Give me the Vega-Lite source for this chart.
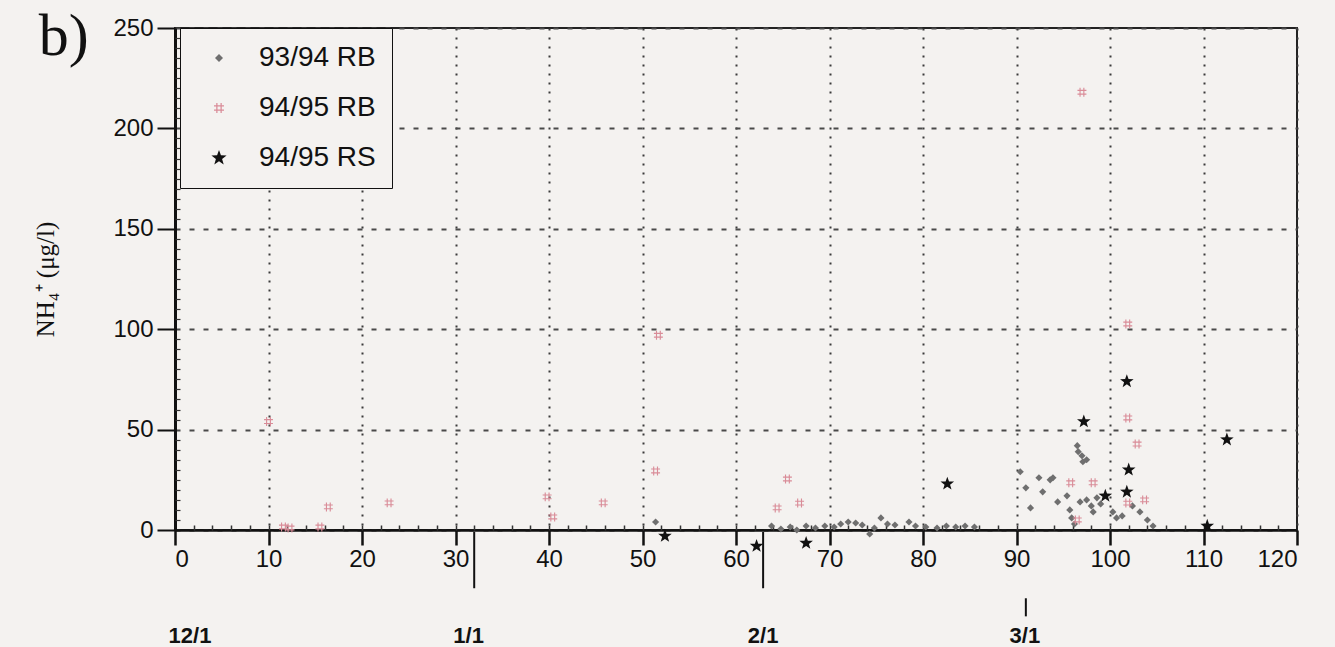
{
  "$schema": "https://vega.github.io/schema/vega-lite/v6.json",
  "width": 1122,
  "height": 502,
  "autosize": {"type": "none"},
  "padding": {"left": 175, "top": 28, "right": 38, "bottom": 117},
  "background": "#f4f2f0",
  "config": {
    "view": {"stroke": "#222", "strokeWidth": 2},
    "axis": {"labelFont": "Liberation Sans", "labelFontSize": 24, "labelColor": "#111", "domainColor": "#111", "tickColor": "#111", "titleFont": "Liberation Serif"}
  },
  "datasets": {
    "pts": [
      {"x": 51.4, "y": 4, "series": "93/94 RB"},
      {"x": 63.8, "y": 2, "series": "93/94 RB"},
      {"x": 64.8, "y": 0.5, "series": "93/94 RB"},
      {"x": 65.8, "y": 1.5, "series": "93/94 RB"},
      {"x": 66.5, "y": 0, "series": "93/94 RB"},
      {"x": 67.5, "y": 2, "series": "93/94 RB"},
      {"x": 68.5, "y": 1, "series": "93/94 RB"},
      {"x": 69.5, "y": 2, "series": "93/94 RB"},
      {"x": 70.5, "y": 1.5, "series": "93/94 RB"},
      {"x": 71.2, "y": 3, "series": "93/94 RB"},
      {"x": 72, "y": 4, "series": "93/94 RB"},
      {"x": 72.8, "y": 3.5, "series": "93/94 RB"},
      {"x": 73.5, "y": 2.5, "series": "93/94 RB"},
      {"x": 74.3, "y": -2, "series": "93/94 RB"},
      {"x": 74.8, "y": 1, "series": "93/94 RB"},
      {"x": 75.5, "y": 6, "series": "93/94 RB"},
      {"x": 76.2, "y": 3, "series": "93/94 RB"},
      {"x": 77, "y": 2.5, "series": "93/94 RB"},
      {"x": 78.5, "y": 4, "series": "93/94 RB"},
      {"x": 79.2, "y": 2, "series": "93/94 RB"},
      {"x": 80.3, "y": 1.5, "series": "93/94 RB"},
      {"x": 81.5, "y": 1, "series": "93/94 RB"},
      {"x": 82.5, "y": 2, "series": "93/94 RB"},
      {"x": 83.5, "y": 1.5, "series": "93/94 RB"},
      {"x": 84.5, "y": 2, "series": "93/94 RB"},
      {"x": 85.5, "y": 1.5, "series": "93/94 RB"},
      {"x": 90.4, "y": 29, "series": "93/94 RB"},
      {"x": 91, "y": 21, "series": "93/94 RB"},
      {"x": 91.5, "y": 11, "series": "93/94 RB"},
      {"x": 92.4, "y": 26, "series": "93/94 RB"},
      {"x": 92.8, "y": 19, "series": "93/94 RB"},
      {"x": 93.6, "y": 25, "series": "93/94 RB"},
      {"x": 93.9, "y": 26, "series": "93/94 RB"},
      {"x": 94.4, "y": 14, "series": "93/94 RB"},
      {"x": 95.4, "y": 17, "series": "93/94 RB"},
      {"x": 95.7, "y": 10, "series": "93/94 RB"},
      {"x": 95.9, "y": 6, "series": "93/94 RB"},
      {"x": 96.2, "y": 3, "series": "93/94 RB"},
      {"x": 96.5, "y": 42, "series": "93/94 RB"},
      {"x": 96.6, "y": 39, "series": "93/94 RB"},
      {"x": 97, "y": 37, "series": "93/94 RB"},
      {"x": 97.1, "y": 34, "series": "93/94 RB"},
      {"x": 97.5, "y": 35, "series": "93/94 RB"},
      {"x": 96.8, "y": 14, "series": "93/94 RB"},
      {"x": 97.5, "y": 15, "series": "93/94 RB"},
      {"x": 98, "y": 12, "series": "93/94 RB"},
      {"x": 98.6, "y": 16, "series": "93/94 RB"},
      {"x": 98.2, "y": 9, "series": "93/94 RB"},
      {"x": 99, "y": 13, "series": "93/94 RB"},
      {"x": 100.3, "y": 9, "series": "93/94 RB"},
      {"x": 100.7, "y": 6, "series": "93/94 RB"},
      {"x": 101.3, "y": 7, "series": "93/94 RB"},
      {"x": 102.4, "y": 12, "series": "93/94 RB"},
      {"x": 103.2, "y": 9, "series": "93/94 RB"},
      {"x": 104, "y": 5, "series": "93/94 RB"},
      {"x": 104.6, "y": 2, "series": "93/94 RB"},
      {"x": 10, "y": 54, "series": "94/95 RB"},
      {"x": 11.6, "y": 1.5, "series": "94/95 RB"},
      {"x": 12.3, "y": 1, "series": "94/95 RB"},
      {"x": 15.5, "y": 1.5, "series": "94/95 RB"},
      {"x": 16.4, "y": 11.5, "series": "94/95 RB"},
      {"x": 22.9, "y": 13.5, "series": "94/95 RB"},
      {"x": 39.8, "y": 16.5, "series": "94/95 RB"},
      {"x": 40.4, "y": 6.5, "series": "94/95 RB"},
      {"x": 45.8, "y": 13.5, "series": "94/95 RB"},
      {"x": 51.4, "y": 29.4, "series": "94/95 RB"},
      {"x": 51.7, "y": 97, "series": "94/95 RB"},
      {"x": 64.4, "y": 11, "series": "94/95 RB"},
      {"x": 65.5, "y": 25.4, "series": "94/95 RB"},
      {"x": 66.8, "y": 13.4, "series": "94/95 RB"},
      {"x": 95.8, "y": 23.5, "series": "94/95 RB"},
      {"x": 98.2, "y": 23.5, "series": "94/95 RB"},
      {"x": 96.5, "y": 5, "series": "94/95 RB"},
      {"x": 97, "y": 218, "series": "94/95 RB"},
      {"x": 101.9, "y": 102.6, "series": "94/95 RB"},
      {"x": 101.9, "y": 55.8, "series": "94/95 RB"},
      {"x": 102.9, "y": 42.8, "series": "94/95 RB"},
      {"x": 101.9, "y": 13.4, "series": "94/95 RB"},
      {"x": 103.7, "y": 15, "series": "94/95 RB"},
      {"x": 52.4, "y": -3, "series": "94/95 RS"},
      {"x": 62.2, "y": -8, "series": "94/95 RS"},
      {"x": 67.5, "y": -6.5, "series": "94/95 RS"},
      {"x": 82.6, "y": 23, "series": "94/95 RS"},
      {"x": 97.2, "y": 54, "series": "94/95 RS"},
      {"x": 99.5, "y": 17, "series": "94/95 RS"},
      {"x": 101.8, "y": 74, "series": "94/95 RS"},
      {"x": 102, "y": 30, "series": "94/95 RS"},
      {"x": 101.8, "y": 19, "series": "94/95 RS"},
      {"x": 110.4, "y": 2, "series": "94/95 RS"},
      {"x": 112.5, "y": 45, "series": "94/95 RS"}
    ],
    "dates": [
      {"x": 1.6, "y": -53, "label": "12/1"},
      {"x": 31.4, "y": -53, "label": "1/1"},
      {"x": 62.9, "y": -53, "label": "2/1"},
      {"x": 90.9, "y": -53, "label": "3/1"}
    ],
    "panel": [
      {"x": -11.9, "y": 236.5, "label": "b)"}
    ],
    "marks": [
      {"x": 32, "y": -1, "y2": -29},
      {"x": 62.9, "y": -1, "y2": -29},
      {"x": 91, "y": -34, "y2": -43}
    ]
  },
  "layer": [
    {
      "data": {"name": "pts"},
      "mark": {"type": "point", "filled": true, "size": 80, "opacity": 1},
      "encoding": {
        "x": {"field": "x", "type": "quantitative", "scale": {"domain": [0, 120], "nice": false},
          "axis": {"orient": "bottom", "values": [0, 10, 20, 30, 40, 50, 60, 70, 80, 90, 100, 110, 120], "title": null, "tickSize": 15, "tickWidth": 2.5, "domainWidth": 2.5, "labelPadding": 2, "grid": true, "gridDash": [2, 7], "gridColor": "#3a3a3a", "gridWidth": 2}},
        "y": {"field": "y", "type": "quantitative", "scale": {"domain": [0, 250], "nice": false},
          "axis": {"orient": "left", "values": [0, 50, 100, 150, 200, 250], "title": "NH₄⁺ (μg/l)", "titleFontSize": 25, "titleFontWeight": "normal", "titleColor": "#111", "titleX": -130, "titleY": 251, "titleAngle": -90, "titleAlign": "center", "titleBaseline": "middle", "tickSize": 18, "tickWidth": 2, "domainWidth": 3, "labelPadding": 4, "grid": true, "gridDash": [5, 9], "gridColor": "#4a4a4a", "gridWidth": 2}},
        "color": {"field": "series", "type": "nominal", "scale": {"domain": ["93/94 RB", "94/95 RB", "94/95 RS"], "range": ["#6f6f6f", "#d98c98", "#111111"]},
          "legend": {"orient": "none", "legendX": 5, "legendY": 0, "title": null, "labelFont": "Liberation Sans", "labelFontSize": 28, "labelColor": "#111", "padding": 16, "rowPadding": 22, "symbolOffset": 9, "labelOffset": 26, "strokeColor": "#111", "fillColor": "#f4f2f0"}},
        "shape": {"field": "series", "type": "nominal", "scale": {"domain": ["93/94 RB", "94/95 RB", "94/95 RS"], "range": ["M0,-0.8L0.8,0L0,0.8L-0.8,0Z", "M-0.55,-1H-0.3V1H-0.55ZM0.3,-1H0.55V1H0.3ZM-1,-0.55H1V-0.3H-1ZM-1,0.3H1V0.55H-1Z", "M0,-1.6L0.382,-0.526L1.522,-0.494L0.618,0.201L0.94,1.294L0,0.65L-0.94,1.294L-0.618,0.201L-1.522,-0.494L-0.382,-0.526Z"]},
          "legend": {"orient": "none", "legendX": 5, "legendY": 0, "title": null, "labelFont": "Liberation Sans", "labelFontSize": 28, "labelColor": "#111", "padding": 16, "rowPadding": 22, "symbolOffset": 9, "labelOffset": 26, "strokeColor": "#111", "fillColor": "#f4f2f0"}}
      }
    },
    {
      "data": {"name": "marks"},
      "mark": {"type": "rule", "color": "#111", "strokeWidth": 2},
      "encoding": {
        "x": {"field": "x", "type": "quantitative",
          "axis": {"orient": "bottom", "values": [2, 4, 6, 8, 10, 12, 14, 16, 18, 20, 22, 24, 26, 28, 30, 32, 34, 36, 38, 40, 42, 44, 46, 48, 50, 52, 54, 56, 58, 60, 62, 64, 66, 68, 70, 72, 74, 76, 78, 80, 82, 84, 86, 88, 90, 92, 94, 96, 98, 100, 102, 104, 106, 108, 110, 112, 114, 116, 118], "labels": false, "title": null, "grid": false, "domain": false, "tickSize": -5, "tickWidth": 1.5, "tickColor": "#333"}},
        "y": {"field": "y", "type": "quantitative",
          "axis": {"orient": "left", "values": [5, 10, 15, 20, 25, 30, 35, 40, 45, 55, 60, 65, 70, 75, 80, 85, 90, 95, 105, 110, 115, 120, 125, 130, 135, 140, 145, 155, 160, 165, 170, 175, 180, 185, 190, 195, 205, 210, 215, 220, 225, 230, 235, 240, 245], "labels": false, "title": null, "grid": false, "domain": false, "tickSize": -5, "tickWidth": 1.2, "tickColor": "#333"}},
        "y2": {"field": "y2"}
      }
    },
    {
      "data": {"name": "dates"},
      "mark": {"type": "text", "font": "Liberation Sans", "fontSize": 22, "fontWeight": "bold", "color": "#111", "align": "center", "baseline": "middle"},
      "encoding": {
        "x": {"field": "x", "type": "quantitative", "axis": null},
        "y": {"field": "y", "type": "quantitative", "axis": null},
        "text": {"field": "label"}
      }
    },
    {
      "data": {"name": "panel"},
      "mark": {"type": "text", "font": "Liberation Serif", "fontSize": 60, "color": "#111", "align": "center", "baseline": "alphabetic"},
      "encoding": {
        "x": {"field": "x", "type": "quantitative", "axis": null},
        "y": {"field": "y", "type": "quantitative", "axis": null},
        "text": {"field": "label"}
      }
    }
  ],
  "resolve": {"axis": {"x": "independent", "y": "independent"}}
}
